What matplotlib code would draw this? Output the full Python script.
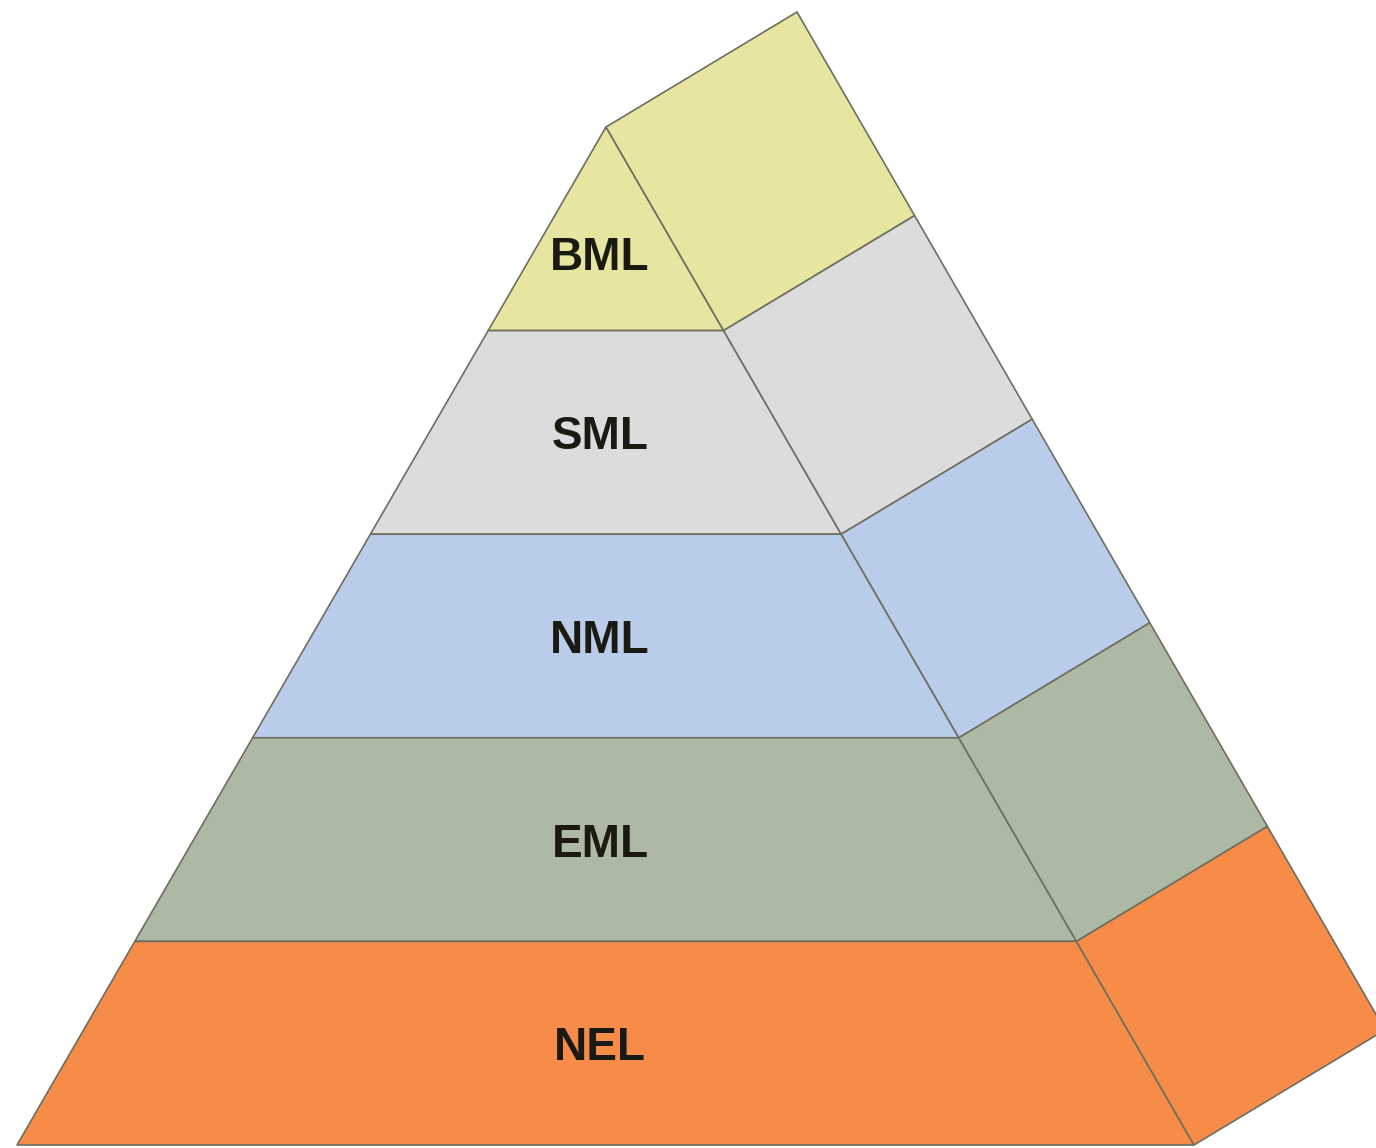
import matplotlib.pyplot as plt
from matplotlib.patches import Polygon

# layers from top to bottom
layers = ['BML', 'SML', 'NML', 'EML', 'NEL']
colors = ['#E6E6A0', '#DCDCDC', '#B9CDEA', '#AEB9A5', '#F78C48']
heights = [1, 1, 1, 1, 1]   # relative layer heights

# layout of the pyramid in pixel space
apex = (606, 127)
base_y = 1145
base_left, base_right = 17, 1194
depth = (191, -115)        # offset of the back edge
edge = '#6E6E60'

fig = plt.figure(figsize=(13.76, 11.48), dpi=100)
ax = fig.add_axes([0, 0, 1, 1])
ax.set_xlim(0, 1376)
ax.set_ylim(1148, 0)
ax.axis('off')


def left_x(y):
    return apex[0] + (base_left - apex[0]) * (y - apex[1]) / (base_y - apex[1])


def right_x(y):
    return apex[0] + (base_right - apex[0]) * (y - apex[1]) / (base_y - apex[1])


total = sum(heights)
y0 = apex[1]
for i, (name, c, h) in enumerate(zip(layers, colors, heights)):
    y1 = y0 + h / total * (base_y - apex[1])
    # front face
    front = [(left_x(y0), y0), (right_x(y0), y0), (right_x(y1), y1), (left_x(y1), y1)]
    ax.add_patch(Polygon(front, closed=True, facecolor=c, edgecolor=edge, lw=1.2))
    # side face
    side = [(right_x(y0), y0), (right_x(y1), y1),
            (right_x(y1) + depth[0], y1 + depth[1]), (right_x(y0) + depth[0], y0 + depth[1])]
    ax.add_patch(Polygon(side, closed=True, facecolor=c, edgecolor=edge, lw=1.2))
    # label, the top triangle gets its label a bit lower
    ty = (y0 + y1) / 2 + 5 + (24 if i == 0 else 0)
    ax.text(600, ty, name, ha='center', va='center', fontsize=33,
            fontweight='bold', family='Liberation Sans', color='#1A1A12')
    y0 = y1

fig.savefig('out.png', dpi=100)
